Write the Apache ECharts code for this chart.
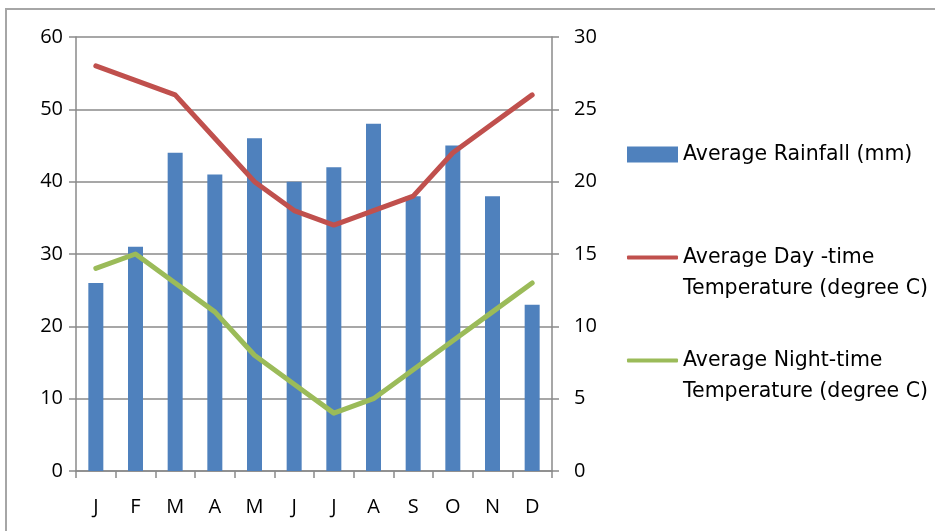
<!DOCTYPE html>
<html>
<head>
<meta charset="utf-8">
<script src="https://cdn.jsdelivr.net/npm/echarts@6/dist/echarts.min.js"></script>
<style>
html,body{margin:0;padding:0;background:#fff;}
#chart{width:935px;height:531px;}
</style>
</head>
<body>
<div id="chart"></div>
<script>
// Monthly climate figures
const months = ['J','F','M','A','M','J','J','A','S','O','N','D'];
const rainfall = [26, 31, 44, 41, 46, 40, 42, 48, 38, 45, 38, 23];
const dayTemp = [28, 27, 26, 23, 20, 18, 17, 18, 19, 22, 24, 26];
const nightTemp = [14, 15, 13, 11, 8, 6, 4, 5, 7, 9, 11, 13];
const rainTicks = [0, 10, 20, 30, 40, 50, 60];
const tempTicks = [0, 5, 10, 15, 20, 25, 30];

const seriesNames = [
  'Average Rainfall (mm)',
  'Average Day -time\nTemperature (degree C)',
  'Average Night-time\nTemperature (degree C)'
];

const AXIS_FONT = '"Open Sans", sans-serif';
const LEGEND_FONT = '"DejaVu Sans", sans-serif';
const GRID = '#8a8a8a';
const axisText = { color: '#000', fontFamily: AXIS_FONT, fontSize: 20 };
const legendText = { color: '#000', fontFamily: LEGEND_FONT, fontSize: 20.5, lineHeight: 31 };

const chart = echarts.init(document.getElementById('chart'), null, { renderer: 'canvas' });

// Two-line legend entries: a blank leading line keeps the swatch level with the first line
function legendFor(name, top, icon, h) {
  return {
    data: [{ name: name, icon: icon }],
    left: 622, top: top, orient: 'vertical',
    itemWidth: 51, itemHeight: h, itemGap: 0,
    textStyle: legendText, selectedMode: false,
    formatter: n => (n.indexOf('\n') >= 0 ? '\n' + n : n)
  };
}

chart.setOption({
  animation: false,
  backgroundColor: '#fff',
  graphic: [{
    type: 'rect',
    shape: { x: 6, y: 9, width: 940, height: 540 },
    style: { fill: 'none', stroke: '#a6a6a6', lineWidth: 2 },
    silent: true
  }],
  grid: { left: 76, right: 383, top: 37, bottom: 60, containLabel: false },
  legend: [
    legendFor(seriesNames[0], 134, 'rect', 16),
    legendFor(seriesNames[1], 206, 'roundRect', 4),
    legendFor(seriesNames[2], 309, 'roundRect', 4)
  ],
  xAxis: {
    type: 'category',
    data: months,
    boundaryGap: true,
    axisLine: { lineStyle: { color: GRID, width: 1.5 } },
    axisTick: { show: true, length: 7, lineStyle: { color: GRID, width: 1.5 } },
    axisLabel: Object.assign({ margin: 26, interval: 0 }, axisText)
  },
  yAxis: [
    {
      type: 'value', min: 0, max: 60, interval: 10,
      axisLine: { show: true, lineStyle: { color: GRID, width: 1.5 } },
      axisTick: { show: true, length: 7, lineStyle: { color: GRID, width: 1.5 } },
      splitLine: { show: true, lineStyle: { color: GRID, width: 1.5 } },
      axisLabel: Object.assign({ margin: 13, formatter: v => rainTicks.includes(v) ? String(v) : '' }, axisText)
    },
    {
      type: 'value', min: 0, max: 30, interval: 5, position: 'right',
      axisLine: { show: true, lineStyle: { color: GRID, width: 1.5 } },
      axisTick: { show: true, length: 7, lineStyle: { color: GRID, width: 1.5 } },
      splitLine: { show: false },
      axisLabel: Object.assign({ margin: 22, formatter: v => tempTicks.includes(v) ? String(v) : '' }, axisText)
    }
  ],
  series: [
    {
      name: seriesNames[0], type: 'bar', yAxisIndex: 0, data: rainfall,
      barWidth: 15,
      itemStyle: { color: '#4f81bd' }
    },
    {
      name: seriesNames[1], type: 'line', yAxisIndex: 1, data: dayTemp,
      symbol: 'none', lineStyle: { color: '#c0504d', width: 5, cap: 'round', join: 'round' },
      itemStyle: { color: '#c0504d' }
    },
    {
      name: seriesNames[2], type: 'line', yAxisIndex: 1, data: nightTemp,
      symbol: 'none', lineStyle: { color: '#9bbb59', width: 5, cap: 'round', join: 'round' },
      itemStyle: { color: '#9bbb59' }
    }
  ]
});
</script>
</body>
</html>
